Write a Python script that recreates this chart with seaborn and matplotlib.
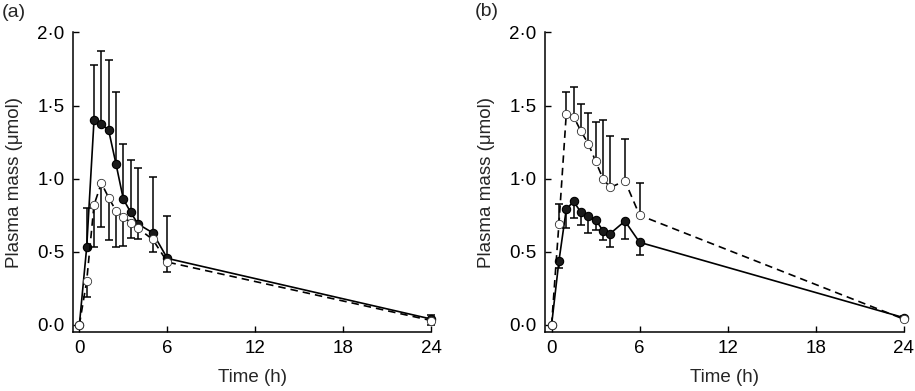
import numpy as np
import pandas as pd
import matplotlib
matplotlib.use("Agg")
import matplotlib.pyplot as plt
import seaborn as sns

# Datos
tiempo = [0, 0.5, 1, 1.5, 2, 2.5, 3, 3.5, 4, 5, 6, 24]

# Panel (a)
a_lleno = [0, 0.53, 1.40, 1.375, 1.33, 1.10, 0.86, 0.77, 0.69, 0.63, 0.455, 0.04]
a_lleno_sd = [0, 0.27, 0.38, 0.50, 0.48, 0.49, 0.38, 0.36, 0.385, 0.385, 0.29, 0.03]
a_vacio = [0, 0.30, 0.82, 0.97, 0.87, 0.78, 0.74, 0.70, 0.66, 0.585, 0.43, 0.03]
a_vacio_sd = [0, 0.11, 0.29, 0.30, 0.29, 0.25, 0.20, 0.105, 0.075, 0.085, 0.07, 0.03]

# Panel (b)
b_lleno = [0, 0.436, 0.79, 0.845, 0.77, 0.745, 0.72, 0.645, 0.625, 0.71, 0.565, 0.05]
b_lleno_sd = [0, 0.05, 0.125, 0.115, 0.09, 0.115, 0.07, 0.065, 0.09, 0.12, 0.085, 0.01]
b_vacio = [0, 0.69, 1.44, 1.425, 1.325, 1.24, 1.12, 1.00, 0.94, 0.985, 0.75, 0.04]
b_vacio_sd = [0, 0.14, 0.15, 0.20, 0.185, 0.21, 0.27, 0.40, 0.35, 0.285, 0.22, 0.02]

xticks = [0, 6, 12, 18, 24]
yticks = [0.0, 0.5, 1.0, 1.5, 2.0]
ytick_labels = ["0·0", "0·5", "1·0", "1·5", "2·0"]

sns.set_theme(style="ticks")
plt.rcParams["font.family"] = ["Liberation Sans", "DejaVu Sans"]

fig = plt.figure(figsize=(9.15, 3.91), dpi=100)
ax_a = fig.add_axes([0.0795, 0.151, 0.392, 0.766])
ax_b = fig.add_axes([0.5956, 0.151, 0.392, 0.766])

fs = 13.5


def dibujar(ax, lleno, lleno_sd, vacio, vacio_sd, lleno_arriba):
    t = np.array(tiempo)
    cero = np.zeros(len(t))
    # barras de error de un solo lado
    if lleno_arriba:
        err_lleno = [cero, lleno_sd]
        err_vacio = [vacio_sd, cero]
    else:
        err_lleno = [lleno_sd, cero]
        err_vacio = [cero, vacio_sd]
    for y, e in [(lleno, err_lleno), (vacio, err_vacio)]:
        eb = ax.errorbar(t, y, yerr=e, fmt="none", ecolor="black", elinewidth=1.1,
                         capsize=3.2, capthick=1.1, zorder=2)
        for art in eb.lines[1] + eb.lines[2]:
            art.set_clip_on(False)

    df = pd.DataFrame({"Tiempo": t, "Lleno": lleno, "Vacio": vacio})
    sns.lineplot(data=df, x="Tiempo", y="Lleno", ax=ax, color="black", linewidth=1.2,
                 marker="o", markersize=6, markerfacecolor="#1a1a1a",
                 markeredgecolor="black", markeredgewidth=0.8, clip_on=False, zorder=3)
    sns.lineplot(data=df, x="Tiempo", y="Vacio", ax=ax, color="black", linewidth=1.2,
                 linestyle=(0, (4.5, 3)), marker="o", markersize=6,
                 markerfacecolor="white", markeredgecolor="#333333",
                 markeredgewidth=0.6, clip_on=False, zorder=4)

    ax.set_xlim(-0.45, 24)
    ax.set_ylim(-0.048, 2.0)
    ax.set_xticks(xticks)
    ax.set_yticks(yticks)
    ax.set_yticklabels(ytick_labels)
    ax.tick_params(direction="in", length=4, width=1, labelsize=fs, pad=6, colors="black")
    for s in ["left", "bottom"]:
        ax.spines[s].set_linewidth(1.1)
        ax.spines[s].set_color("black")
    sns.despine(ax=ax)
    ax.set_xlabel("Time (h)", fontsize=fs)
    ax.set_ylabel("Plasma mass (μmol)", fontsize=fs)
    ax.xaxis.set_label_coords(0.5, -0.125)
    ax.yaxis.set_label_coords(-0.14, 0.5)


dibujar(ax_a, a_lleno, a_lleno_sd, a_vacio, a_vacio_sd, lleno_arriba=True)
dibujar(ax_b, b_lleno, b_lleno_sd, b_vacio, b_vacio_sd, lleno_arriba=False)

fig.text(0.002, 1 - 4 / 391, "(a)", fontsize=14, va="top", ha="left")
fig.text(475 / 915, 1 - 3 / 391, "(b)", fontsize=14, va="top", ha="left")

fig.savefig("out.png", dpi=100)
